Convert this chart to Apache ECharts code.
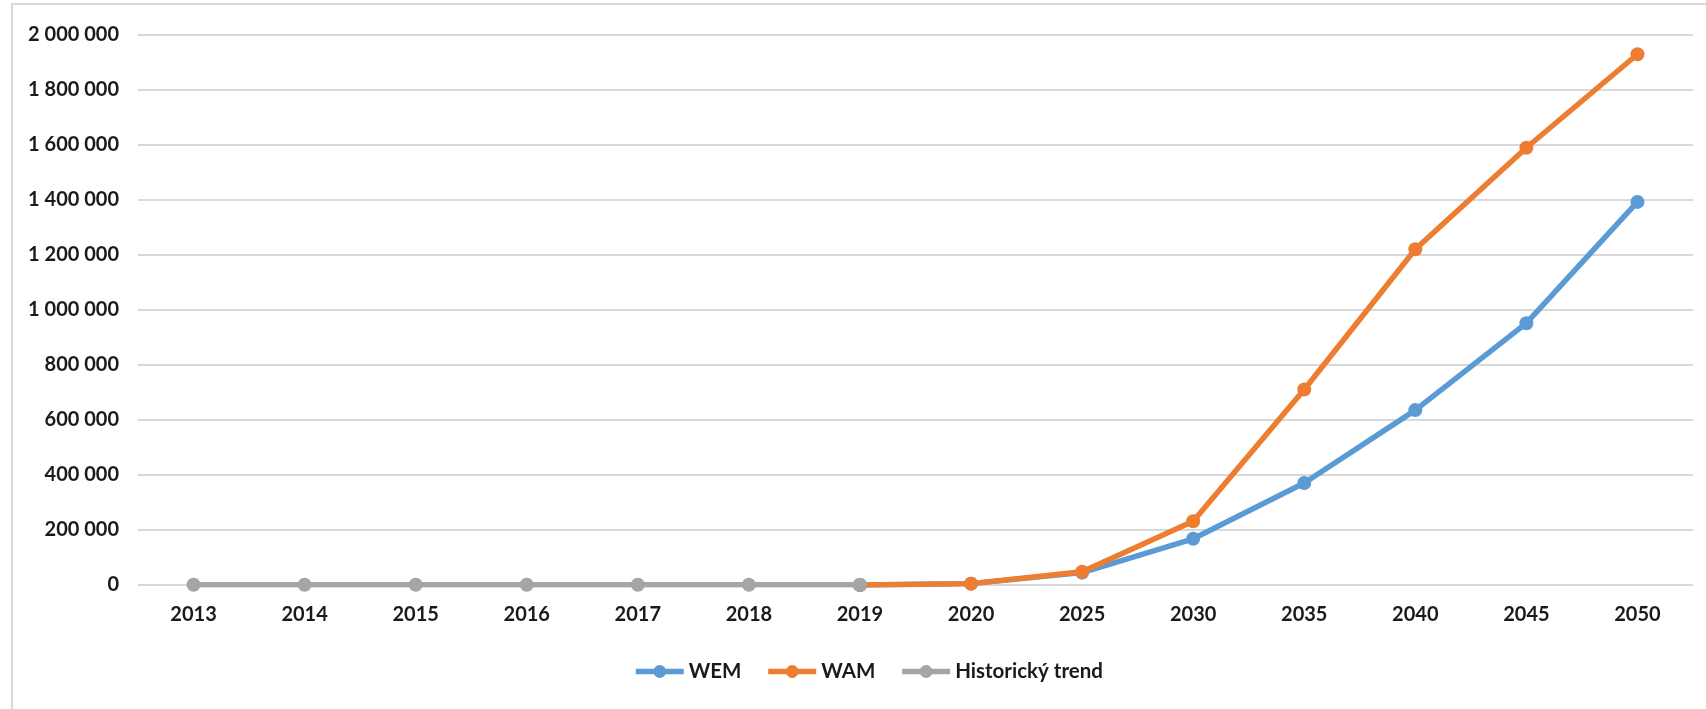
<!DOCTYPE html>
<html><head><meta charset="utf-8">
<script src="https://cdn.jsdelivr.net/npm/echarts@6/dist/echarts.min.js"></script>
<style>html,body{margin:0;padding:0;background:#fff}#c{width:1706px;height:709px}</style>
</head><body><div id="c"></div>
<script>
const categories = ['2013','2014','2015','2016','2017','2018','2019','2020','2025','2030','2035','2040','2045','2050'];
const wem = [null,null,null,null,null,null,0,5000,45000,168000,371000,636000,952000,1393000];
const wam = [null,null,null,null,null,null,0,5000,48000,232000,711000,1221000,1590000,1930000];
const hist = [1000,1000,1000,1000,1000,1000,1000,null,null,null,null,null,null,null];
const yTicks = [0,200000,400000,600000,800000,1000000,1200000,1400000,1600000,1800000,2000000];

const font = 'Lato, "Open Sans", sans-serif';
function fmt(v){return String(v).replace(/\B(?=(\d{3})+(?!\d))/g,' ');}
const chart = echarts.init(document.getElementById('c'));
function mk(name,data,color,z){
  return {name,type:'line',data,z,symbol:'circle',symbolSize:14,
    lineStyle:{color,width:5.5},itemStyle:{color},connectNulls:false,animation:false};
}
chart.setOption({
  animation:false,
  graphic:[{type:'rect',shape:{x:12,y:4,width:1720,height:720},style:{fill:'none',stroke:'#D9D9D9',lineWidth:2},silent:true}],
  grid:{left:138,right:13,top:35,bottom:124,containLabel:false},
  xAxis:{type:'category',data:categories,boundaryGap:true,
    axisLine:{show:false},axisTick:{show:false},
    axisLabel:{color:'#1a1a1a',fontFamily:font,fontWeight:'bold',fontSize:20,margin:20}},
  yAxis:{type:'value',min:yTicks[0],max:yTicks[yTicks.length-1],interval:yTicks[1]-yTicks[0],
    axisLine:{show:false},axisTick:{show:false},
    splitLine:{lineStyle:{color:'#D9D9D9',width:2}},
    axisLabel:{color:'#1a1a1a',fontFamily:font,fontWeight:'bold',fontSize:20,margin:19,
      formatter:v=>fmt(v)}},
  legend:{bottom:22,left:628,itemWidth:48,itemHeight:16,itemGap:24,
    lineStyle:{width:5.5},
    textStyle:{color:'#1a1a1a',fontFamily:font,fontWeight:'bold',fontSize:20.5},
    data:['WEM','WAM','Historický trend']},
  series:[mk('WEM',wem,'#5B9BD5',2),mk('WAM',wam,'#ED7D31',3),mk('Historický trend',hist,'#A5A5A5',4)]
});
</script></body></html>
